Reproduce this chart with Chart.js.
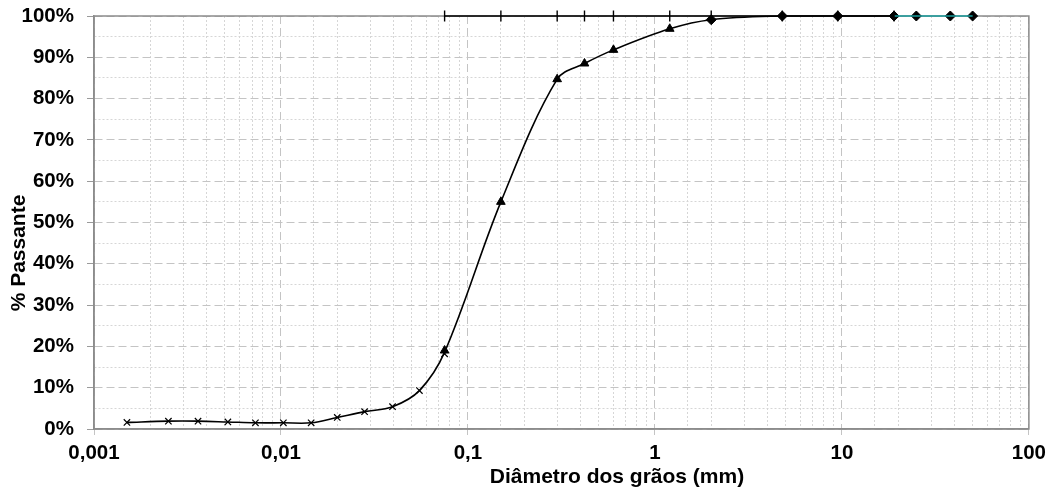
<!DOCTYPE html>
<html lang="pt">
<head>
<meta charset="utf-8">
<title>Curva granulométrica</title>
<script src="https://cdn.jsdelivr.net/npm/chart.js@4.4.1/dist/chart.umd.min.js"></script>
<style>
  html, body { margin: 0; padding: 0; background: #fff; }
  #wrap { width: 1052px; height: 493px; position: relative; }
</style>
</head>
<body>
<div id="wrap"><canvas id="granChart"></canvas></div>
<script>
// --- dados ---
// sedimentação (marcador x)
const sedDiam = [0.0015, 0.0025, 0.0036, 0.0052, 0.0073, 0.0103, 0.0145, 0.02, 0.028, 0.0395, 0.055, 0.075];
const sedPass = [1.6, 1.9, 1.9, 1.7, 1.5, 1.5, 1.5, 2.8, 4.2, 5.4, 9.3, 18.2];
// peneiramento fino (triângulos)
const fineDiam = [0.075, 0.15, 0.3, 0.42, 0.6, 1.2];
const finePass = [19.0, 55.0, 84.7, 88.5, 91.8, 96.9];
// peneiramento grosso (losangos)
const coarseDiam = [2.0, 4.8, 9.5, 19, 25, 38, 50];
const coarsePass = [99.1, 100, 100, 100, 100, 100, 100];
// linha superior com marcas das peneiras
const sieveDiam = [0.075, 0.15, 0.3, 0.42, 0.6, 1.2, 2.0, 4.8, 9.5, 19];
const sievePass = [100, 100, 100, 100, 100, 100, 100, 100, 100, 100];
// trecho ciano
const cyanDiam = [19, 25, 38, 50];
const cyanPass = [100, 100, 100, 100];

const xTickLabels = { '-3': '0,001', '-2': '0,01', '-1': '0,1', '0': '1', '1': '10', '2': '100' };

const pts = (xs, ys) => xs.map((x, i) => ({ x: x, y: ys[i] }));

// curva contínua: sedimentação + peneiras
const curveDiam = sedDiam.slice(0, -1).concat([0.075], fineDiam.slice(1), coarseDiam.slice(0, 4));
const curvePass = sedPass.slice(0, -1).concat([18.6], finePass.slice(1), coarsePass.slice(0, 4));

const isDecade = v => {
  const l = Math.log10(v);
  return Math.abs(l - Math.round(l)) < 1e-6;
};

const FONT = 'Liberation Sans, Arial, sans-serif';

const framePlugin = {
  id: 'frame',
  beforeDatasetsDraw(chart) {
    const a = chart.chartArea;
    const ctx = chart.ctx;
    ctx.save();
    ctx.strokeStyle = '#8c8c8c';
    ctx.lineWidth = 1.5;
    ctx.strokeRect(a.left, a.top, a.right - a.left, a.bottom - a.top);
    ctx.restore();
  },
  afterDraw(chart) {
    const ctx = chart.ctx;
    ctx.save();
    ctx.fillStyle = '#000';
    ctx.font = 'bold 21px ' + FONT;
    ctx.textAlign = 'center';
    ctx.textBaseline = 'middle';
    ctx.fillText('Diâmetro dos grãos (mm)', 617, 477);
    ctx.translate(19, 253);
    ctx.rotate(-Math.PI / 2);
    ctx.fillText('% Passante', 0, 0);
    ctx.restore();
  }
};

new Chart(document.getElementById('granChart'), {
  type: 'scatter',
  data: {
    datasets: [
      {
        label: 'curva',
        data: pts(curveDiam, curvePass),
        showLine: true,
        borderColor: '#000',
        borderWidth: 1.6,
        tension: 0.35,
        pointRadius: 0,
        clip: false
      },
      {
        label: 'peneiras',
        data: pts(sieveDiam, sievePass),
        showLine: true,
        borderColor: '#000',
        borderWidth: 1.6,
        pointStyle: 'line',
        rotation: 90,
        pointRadius: 5.5,
        pointBorderColor: '#000',
        pointBorderWidth: 1.4,
        clip: false
      },
      {
        label: 'ciano',
        data: pts(cyanDiam, cyanPass),
        showLine: true,
        borderColor: '#1a9e9e',
        borderWidth: 1.6,
        pointRadius: 0,
        clip: false
      },
      {
        label: 'sedimentação',
        data: pts(sedDiam, sedPass),
        pointStyle: 'crossRot',
        pointRadius: 4.5,
        pointBorderColor: '#000',
        pointBorderWidth: 1.2,
        clip: false
      },
      {
        label: 'peneiramento fino',
        data: pts(fineDiam, finePass),
        pointStyle: 'triangle',
        pointRadius: 5,
        pointBackgroundColor: '#000',
        pointBorderColor: '#000',
        pointBorderWidth: 1,
        clip: false
      },
      {
        label: 'peneiramento grosso',
        data: pts(coarseDiam, coarsePass),
        pointStyle: 'rectRot',
        pointRadius: 5,
        pointBackgroundColor: '#000',
        pointBorderColor: '#000',
        pointBorderWidth: 1,
        clip: false
      }
    ]
  },
  options: {
    responsive: true,
    maintainAspectRatio: false,
    animation: false,
    layout: { padding: { top: 16, right: 23, left: 0, bottom: 0 } },
    plugins: {
      legend: { display: false },
      tooltip: { enabled: false }
    },
    scales: {
      x: {
        type: 'logarithmic',
        min: 0.001,
        max: 100,
        afterFit: s => { s.height = 64; },
        border: {
          color: '#8c8c8c',
          width: 1.5,
          dash: ctx => (ctx.tick && isDecade(ctx.tick.value) ? [8, 4] : [2, 2])
        },
        grid: {
          color: ctx => (ctx.tick && isDecade(ctx.tick.value) ? '#c4c4c4' : '#d6d6d6'),
          lineWidth: 1,
          tickLength: 6,
          tickColor: ctx => (ctx.tick && isDecade(ctx.tick.value) ? '#c4c4c4' : 'rgba(0,0,0,0)')
        },
        ticks: {
          autoSkip: false,
          maxRotation: 0,
          padding: 6,
          color: '#000',
          font: { family: FONT, size: 20.5, weight: 'bold' },
          callback: v => (isDecade(v) ? xTickLabels[String(Math.round(Math.log10(v)))] : '')
        }
      },
      y: {
        min: 0,
        max: 100,
        afterFit: s => {
          s.width = 94;
          s.paddingTop = 0;
          s.paddingBottom = 0;
        },
        border: {
          color: '#8c8c8c',
          width: 1.5,
          dash: ctx => (ctx.tick && ctx.tick.value % 10 === 0 ? [8, 4] : [2, 2])
        },
        grid: {
          color: ctx => (ctx.tick && ctx.tick.value % 10 === 0 ? '#c4c4c4' : '#d6d6d6'),
          lineWidth: 1,
          tickLength: 7,
          tickColor: ctx => (ctx.tick && ctx.tick.value % 10 === 0 ? '#9a9a9a' : 'rgba(0,0,0,0)')
        },
        ticks: {
          stepSize: 5,
          autoSkip: false,
          padding: 13,
          color: '#000',
          font: { family: FONT, size: 20.5, weight: 'bold' },
          callback: v => (v % 10 === 0 ? v + '%' : '')
        }
      }
    }
  },
  plugins: [framePlugin]
});
</script>
</body>
</html>
